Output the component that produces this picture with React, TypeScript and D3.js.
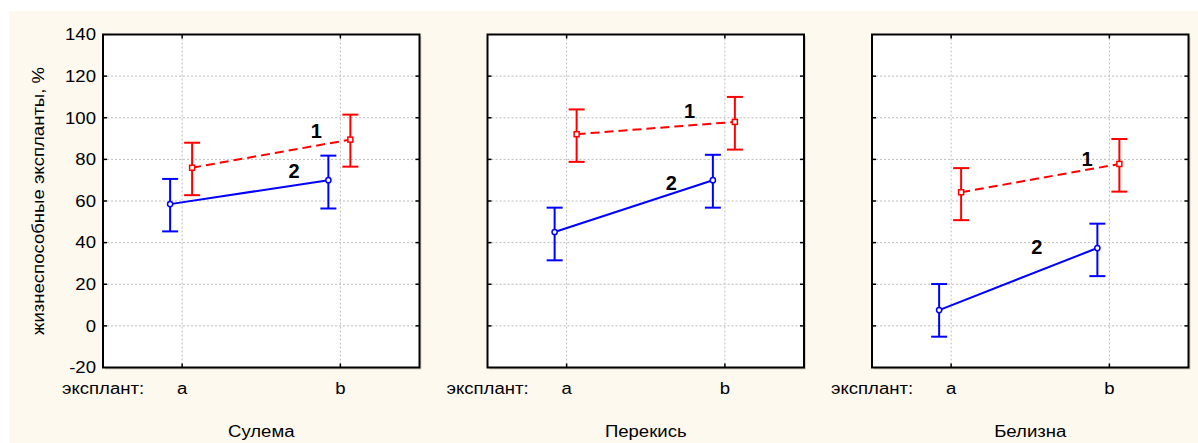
import React from "react";
import * as d3 from "d3";

// Treatments (one panel each) and explant types on the x axis
const panelTitles = ["Сулема", "Перекись", "Белизна"];
const explants = ["a", "b"];
const yTicks = [-20, 0, 20, 40, 60, 80, 100, 120, 140];

// Series 1 (red, dashed): means and interval bounds per panel, per explant
const s1Mean = [[76, 89.5], [92.1, 98], [64.2, 77.8]];
const s1Low = [[62.8, 76.5], [78.8, 84.7], [50.8, 64.5]];
const s1High = [[88, 101.5], [104, 110], [75.8, 89.8]];

// Series 2 (blue, solid)
const s2Mean = [[58.5, 70], [45.1, 70], [7.6, 37.4]];
const s2Low = [[45.4, 56.4], [31.5, 56.8], [-5.2, 23.9]];
const s2High = [[70.6, 81.8], [56.8, 82.2], [20.1, 49.1]];

// Curve labels: [x in explant units (a=0, b=1), y value of baseline]
const label1Pos = [[0.848, 90.2], [0.777, 99.8], [0.859, 77]];
const label2Pos = [[0.707, 71], [0.661, 65.4], [0.541, 34.6]];

const W = 1198;
const H = 443;
const plotTop = 34.5;
const plotBottom = 367.5;
const panelW = 316.5;
const firstLeft = 103;
const panelStep = 384.5;

const RED = "#ff0000";
const BLUE = "#0000ff";
const FONT = "'Liberation Sans', Arial, sans-serif";
const SX = 1.16;

const y = d3.scaleLinear().domain([-20, 140]).range([plotBottom, plotTop]);
const x = d3.scaleLinear().domain([-0.5, 1.5]).range([0, panelW]);

function Txt({ x, y, children, anchor = "start", rotate = 0, size = 16, weight = "normal" }: any) {
  const t = `translate(${x},${y})${rotate ? ` rotate(${rotate})` : ""} scale(${weight === "bold" ? 1 : SX},1)`;
  return (
    <text transform={t} textAnchor={anchor} fontFamily={FONT} fontSize={size} fontWeight={weight} fill="#000">
      {children}
    </text>
  );
}

function ErrorBar({ cx, lo, hi, color }: any) {
  const cap = 8;
  return (
    <g stroke={color} strokeWidth={2} fill="none">
      <line x1={cx} x2={cx} y1={y(lo)} y2={y(hi)} />
      <line x1={cx - cap} x2={cx + cap} y1={y(lo)} y2={y(lo)} />
      <line x1={cx - cap} x2={cx + cap} y1={y(hi)} y2={y(hi)} />
    </g>
  );
}

function Panel({ i }: { i: number }) {
  const left = firstLeft + i * panelStep;
  const offBlue = -12;
  const offRed = 10;
  const line = d3.line<[number, number]>().x((d) => d[0]).y((d) => d[1]);
  const redPts: [number, number][] = explants.map((_, k) => [x(k) + offRed, y(s1Mean[i][k])]);
  const bluePts: [number, number][] = explants.map((_, k) => [x(k) + offBlue, y(s2Mean[i][k])]);
  const gridY = yTicks.filter((v) => v > -20 && v < 140);
  const tick = 4;
  return (
    <g transform={`translate(${left},0)`}>
      {/* shadow and plot area */}
      <rect x={2} y={plotTop + 2} width={panelW} height={plotBottom - plotTop} fill="#d6d2c8" />
      <rect x={0} y={plotTop} width={panelW} height={plotBottom - plotTop} fill="#ffffff" />
      {/* grid */}
      <g stroke="#bdbdbd" strokeWidth={1} strokeDasharray="2,2">
        {gridY.map((v) => (
          <line key={v} x1={0} x2={panelW} y1={y(v)} y2={y(v)} />
        ))}
        {explants.map((_, k) => (
          <line key={k} x1={x(k)} x2={x(k)} y1={plotTop} y2={plotBottom} />
        ))}
      </g>
      {/* series lines */}
      <path d={line(bluePts) || ""} stroke={BLUE} strokeWidth={2} fill="none" />
      <path d={line(redPts) || ""} stroke={RED} strokeWidth={2} fill="none" strokeDasharray="9,5" />
      {/* error bars */}
      {explants.map((_, k) => (
        <ErrorBar key={"b" + k} cx={x(k) + offBlue} lo={s2Low[i][k]} hi={s2High[i][k]} color={BLUE} />
      ))}
      {explants.map((_, k) => (
        <ErrorBar key={"r" + k} cx={x(k) + offRed} lo={s1Low[i][k]} hi={s1High[i][k]} color={RED} />
      ))}
      {/* markers */}
      {bluePts.map((p, k) => (
        <circle key={k} cx={p[0]} cy={p[1]} r={2.6} fill="#fff" stroke={BLUE} strokeWidth={1.5} />
      ))}
      {redPts.map((p, k) => (
        <rect key={k} x={p[0] - 2.5} y={p[1] - 2.5} width={5} height={5} fill="#fff" stroke={RED} strokeWidth={1.5} />
      ))}
      {/* curve labels */}
      <Txt x={x(label1Pos[i][0])} y={y(label1Pos[i][1])} anchor="middle" size={20} weight="bold">1</Txt>
      <Txt x={x(label2Pos[i][0])} y={y(label2Pos[i][1])} anchor="middle" size={20} weight="bold">2</Txt>
      {/* ticks inside the frame */}
      <g stroke="#000" strokeWidth={1.5}>
        {gridY.map((v) => (
          <g key={v}>
            <line x1={0} x2={tick} y1={y(v)} y2={y(v)} />
            <line x1={panelW - tick} x2={panelW} y1={y(v)} y2={y(v)} />
          </g>
        ))}
        {explants.map((_, k) => (
          <g key={k}>
            <line x1={x(k)} x2={x(k)} y1={plotBottom - tick} y2={plotBottom} />
            <line x1={x(k)} x2={x(k)} y1={plotTop} y2={plotTop + tick} />
          </g>
        ))}
      </g>
      {/* frame */}
      <rect x={0} y={plotTop} width={panelW} height={plotBottom - plotTop} fill="none" stroke="#000" strokeWidth={2} />
      {/* x axis labels */}
      <Txt x={-41} y={394}>эксплант:</Txt>
      {explants.map((c, k) => (
        <Txt key={c} x={x(k)} y={394} anchor="middle">{c}</Txt>
      ))}
      <Txt x={panelW / 2} y={437} anchor="middle">{panelTitles[i]}</Txt>
      {/* y tick labels on the first panel only */}
      {i === 0 &&
        yTicks.map((v) => (
          <Txt key={v} x={-7} y={y(v) + 5.8} anchor="end">{String(v)}</Txt>
        ))}
    </g>
  );
}

export default function App() {
  return (
    <svg width={W} height={H} style={{ position: "absolute", left: 0, top: 0 }}>
      <rect x={0} y={0} width={W} height={H} fill="#ffffff" />
      <rect x={9} y={11} width={W - 9} height={H - 11} fill="#fef9ef" />
      <Txt x={44} y={(plotTop + plotBottom) / 2} anchor="middle" rotate={-90}>
        жизнеспособные экспланты, %
      </Txt>
      {panelTitles.map((_, i) => (
        <Panel key={i} i={i} />
      ))}
    </svg>
  );
}
